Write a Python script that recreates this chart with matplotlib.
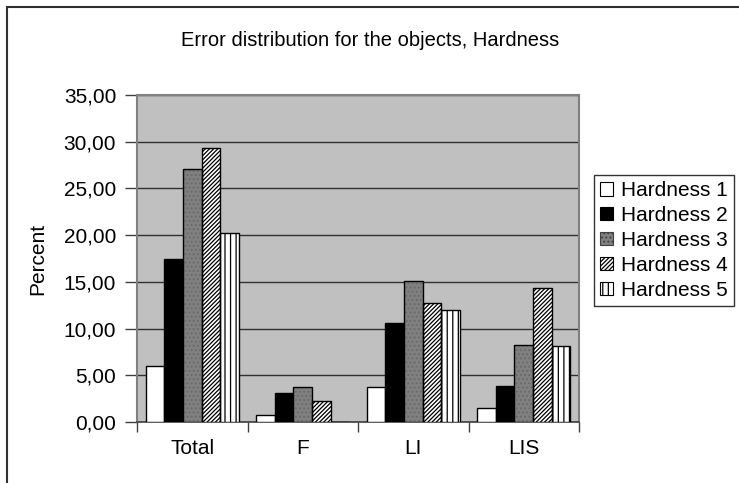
import matplotlib
matplotlib.use("Agg")
import matplotlib.pyplot as plt
import numpy as np
from matplotlib.patches import Rectangle

categories = ["Total", "F", "LI", "LIS"]
series = ["Hardness 1", "Hardness 2", "Hardness 3", "Hardness 4", "Hardness 5"]
hardness1 = [6.03, 0.75, 3.78, 1.53]
hardness2 = [17.45, 3.14, 10.60, 3.89]
hardness3 = [27.08, 3.75, 15.09, 8.24]
hardness4 = [29.30, 2.28, 12.70, 14.37]
hardness5 = [20.26, 0.00, 11.99, 8.17]
values = [hardness1, hardness2, hardness3, hardness4, hardness5]
yticks = [0, 5, 10, 15, 20, 25, 30, 35]

plt.rcParams['font.family'] = ['Liberation Sans', 'DejaVu Sans']
plt.rcParams['hatch.linewidth'] = 0.9

W, H = 739, 483
fig = plt.figure(figsize=(W / 100, H / 100), dpi=100)
fig.patch.set_facecolor("white")

# outer chart frame (only top/left visible)
fig.patches.append(Rectangle((7 / W, -0.1), 1.1, 1.1 - 7 / H, transform=fig.transFigure,
                             fill=False, edgecolor="#303030", linewidth=1.5))

ax = fig.add_axes([137 / W, (H - 422) / H, 442 / W, 327 / H])
ax.set_facecolor("#C0C0C0")

styles = [
    dict(color="white", hatch=None, hcolor=None),
    dict(color="black", hatch=None, hcolor=None),
    dict(color="#808080", hatch="....", hcolor="#6a6a6a"),
    dict(color="white", hatch="////////", hcolor="black"),
    dict(color="white", hatch="|||", hcolor="black"),
]

x = np.arange(len(categories))
w = 0.1675
handles = []
for i, (name, vals, st) in enumerate(zip(series, values, styles)):
    pos = x + (i - 2) * w
    if st["hatch"]:
        ax.bar(pos, vals, w, color=st["color"], hatch=st["hatch"],
               edgecolor=st["hcolor"], linewidth=0, zorder=3)
        ax.bar(pos, vals, w, fill=False, edgecolor="black", linewidth=1.0, zorder=4)
        h = Rectangle((0, 0), 1, 1, facecolor=st["color"], hatch=st["hatch"],
                      edgecolor=st["hcolor"] if i != 2 else "#404040", linewidth=0.8)
    else:
        ax.bar(pos, vals, w, color=st["color"], edgecolor="black", linewidth=1.0, zorder=3)
        h = Rectangle((0, 0), 1, 1, facecolor=st["color"], edgecolor="black", linewidth=0.8)
    handles.append(h)

ax.set_xlim(-0.5, len(categories) - 0.5)
ax.set_ylim(0, 35)
ax.set_yticks(yticks)
ax.set_yticklabels([f"{v:.2f}".replace(".", ",") for v in yticks], fontsize=15)
ax.yaxis.grid(True, color="#303030", linewidth=1.0)
ax.set_axisbelow(True)

ax.set_xticks(x)
ax.set_xticklabels(categories, fontsize=15)
ax.set_xticks(np.arange(len(categories) + 1) - 0.5, minor=True)
ax.tick_params(axis="x", which="major", length=0, pad=12)
ax.tick_params(axis="x", which="minor", length=7, width=1, color="#404040")
ax.tick_params(axis="y", length=9, width=1, color="#404040", pad=6)

for s in ["top", "right", "left"]:
    ax.spines[s].set_color("#808080")
    ax.spines[s].set_linewidth(1.5)
ax.spines["bottom"].set_color("#404040")
ax.spines["bottom"].set_linewidth(1.2)

ax.set_ylabel("Percent", fontsize=15, labelpad=12)

fig.text(370 / W, 1 - 40 / H, "Error distribution for the objects, Hardness",
         fontsize=14.5, ha="center", va="center")

leg = fig.legend(handles, series, loc="upper left", bbox_to_anchor=(594 / W, 1 - 175 / H),
                 fontsize=15, frameon=True, fancybox=False, handlelength=0.6,
                 handleheight=0.6, handletextpad=0.4, borderpad=0.3, labelspacing=0.28,
                 borderaxespad=0)
leg.get_frame().set_edgecolor("black")
leg.get_frame().set_linewidth(1.0)

fig.savefig("out.png", dpi=100)
